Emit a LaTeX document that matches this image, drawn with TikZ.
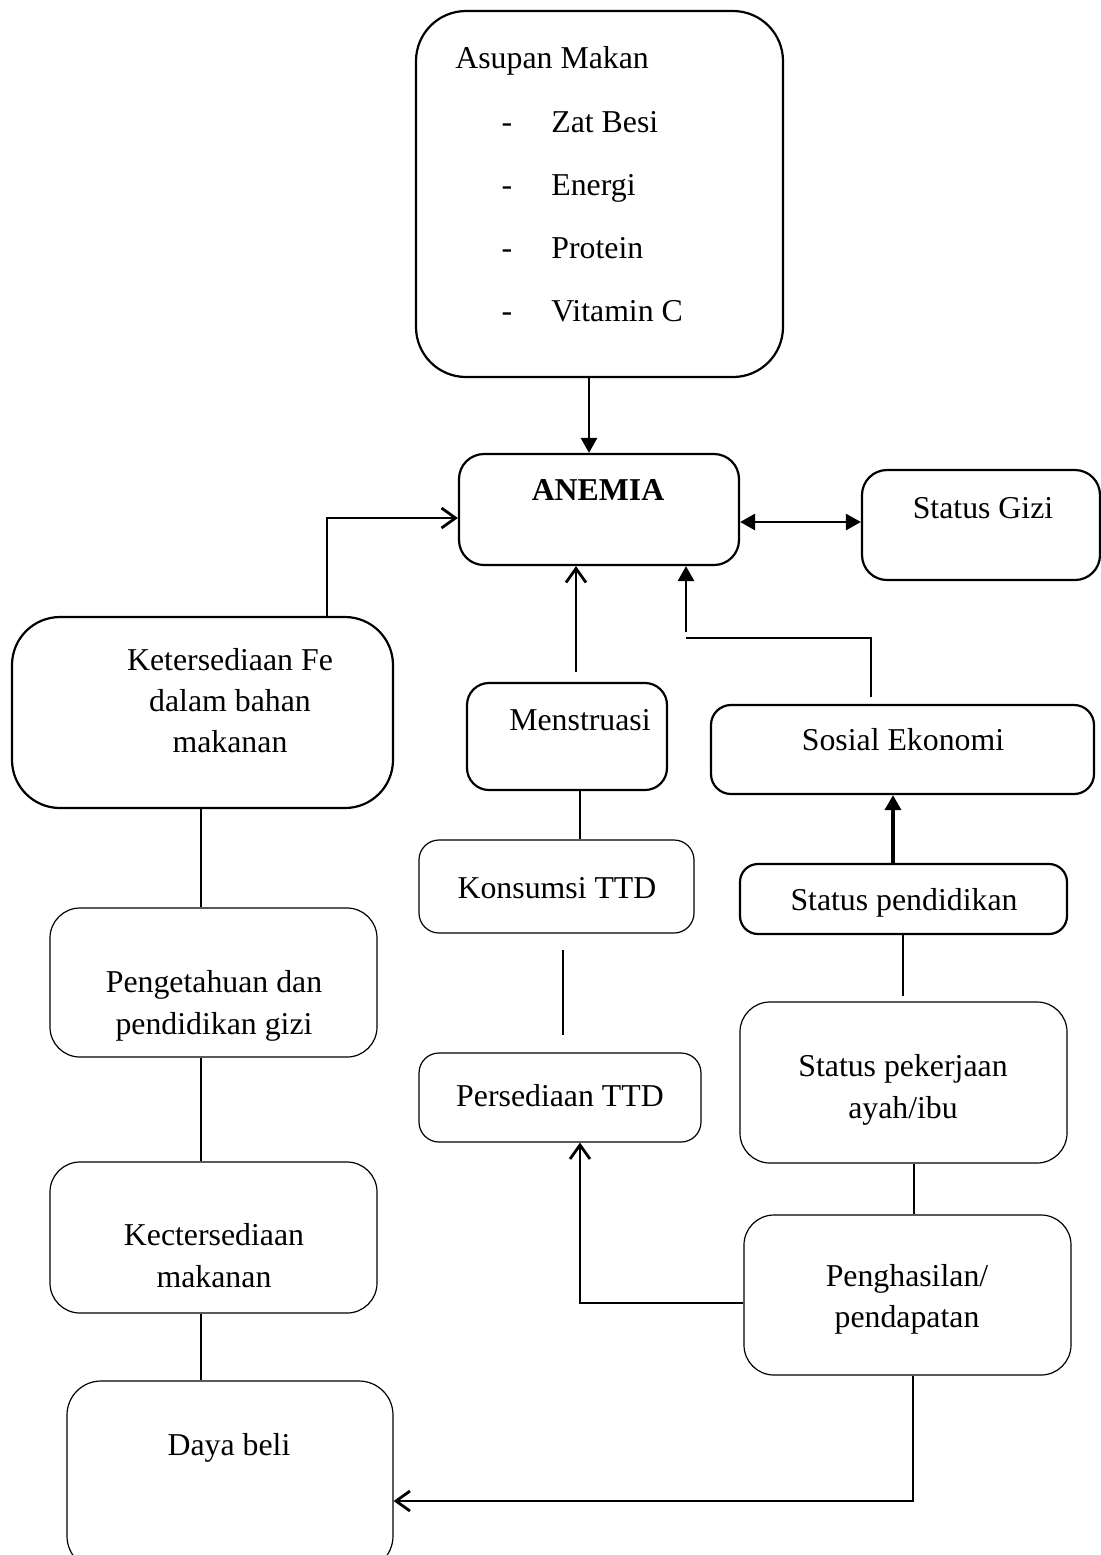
\documentclass[tikz,border=0pt]{standalone}
\usepackage{fontspec}
\setmainfont{Liberation Serif}
\usetikzlibrary{arrows.meta,fit}
\begin{document}
\begin{tikzpicture}[x=0.5pt,y=-0.5pt,
  boxA/.style={draw, line width=1.1pt, inner sep=0pt},
  boxB/.style={draw, line width=0.6pt, inner sep=0pt},
  txt/.style={inner sep=0pt, anchor=base, font=\fontsize{15.9}{19}\selectfont},
  txtw/.style={txt, anchor=base west},
  conn/.style={line width=1.4pt},
  link/.style={line width=0.9pt},
  openhead/.style={-{Straight Barb[length=7pt,width=10pt]}},
  fillhead/.style={-{Triangle[length=7.5pt,width=8pt]}},
]
\useasboundingbox (0,0) rectangle (1101,1555);
% boxes
\node[boxA, rounded corners=25pt, fit={(416,11) (783,377)}] (asupan) {};
\node[boxA, rounded corners=12.5pt, fit={(459,454) (739,565)}] (anemia) {};
\node[boxA, rounded corners=12.5pt, fit={(862,470) (1100,580)}] (gizi) {};
\node[boxA, rounded corners=24pt, fit={(12,617) (393,808)}] (ket) {};
\node[boxA, rounded corners=11pt, fit={(467,683) (667,790)}] (mens) {};
\node[boxA, rounded corners=10pt, fit={(711,705) (1094,794)}] (sosial) {};
\node[boxB, rounded corners=10pt, fit={(419,840) (694,933)}] (konsumsi) {};
\node[boxA, rounded corners=9pt, fit={(740,864) (1067,934)}] (pendidikan) {};
\node[boxB, rounded corners=15pt, fit={(50,908) (377,1057)}] (peng) {};
\node[boxB, rounded corners=10pt, fit={(419,1053) (701,1142)}] (persediaan) {};
\node[boxB, rounded corners=15pt, fit={(740,1002) (1067,1163)}] (pekerjaan) {};
\node[boxB, rounded corners=15pt, fit={(50,1162) (377,1313)}] (kect) {};
\node[boxB, rounded corners=15pt, fit={(744,1215) (1071,1375)}] (penghasilan) {};
\begin{scope}
\clip (0,0) rectangle (1101,1555);
\node[boxB, rounded corners=17pt, fit={(67,1381) (393,1570)}] (daya) {};
\end{scope}
% texts
\node[txtw] (tAsupan) at (455,68) {Asupan Makan};
\node[txt] (d1) at (507,132) {-};
\node[txtw] (i1) at (551,132) {Zat Besi};
\node[txt] (d2) at (507,195) {-};
\node[txtw] (i2) at (551,195) {Energi};
\node[txt] (d3) at (507,258) {-};
\node[txtw] (i3) at (551,258) {Protein};
\node[txt] (d4) at (507,321) {-};
\node[txtw] (i4) at (551,321) {Vitamin C};
\node[txt, font=\fontsize{15.9}{19}\selectfont\bfseries] (tAnemia) at (598,500) {ANEMIA};
\node[txt] (tGizi) at (983,518) {Status Gizi};
\node[txt] (tKet1) at (230,670) {Ketersediaan Fe};
\node[txt] (tKet2) at (230,711) {dalam bahan};
\node[txt] (tKet3) at (230,752) {makanan};
\node[txt] (tMens) at (580,730) {Menstruasi};
\node[txt] (tSosial) at (903,750) {Sosial Ekonomi};
\node[txt] (tKons) at (557,898) {Konsumsi TTD};
\node[txt] (tPend) at (904,910) {Status pendidikan};
\node[txt] (tPeng1) at (214,992) {Pengetahuan dan};
\node[txt] (tPeng2) at (214,1034) {pendidikan gizi};
\node[txt] (tPers) at (560,1106) {Persediaan TTD};
\node[txt] (tPek1) at (903,1076) {Status pekerjaan};
\node[txt] (tPek2) at (903,1118) {ayah/ibu};
\node[txt] (tKect1) at (214,1245) {Kectersediaan};
\node[txt] (tKect2) at (214,1287) {makanan};
\node[txt] (tPengh1) at (907,1286) {Penghasilan/};
\node[txt] (tPengh2) at (907,1327) {pendapatan};
\node[txt] (tDaya) at (229,1455) {Daya beli};
% free connector ends
\coordinate (ketStart) at (198,617);
\coordinate (mensStart) at (576,672);
\coordinate (sosStart) at (871,697);
\coordinate (sosBend) at (686,638);
\coordinate (sosArr) at (686,632);
\coordinate (konsEnd) at (563,950);
\coordinate (persTop) at (563,1035);
\coordinate (pendEnd) at (903,996);
% connectors
\draw[conn, fillhead] (asupan.south -| 589,0) -- (anemia.north -| 589,0);
\draw[conn, openhead] (ketStart) -- (327,617) -- (327,518) -- (anemia.west |- 0,518);
\draw[conn, {Triangle[length=7.5pt,width=8pt]}-{Triangle[length=7.5pt,width=8pt]}] (anemia.east |- 0,522) -- (gizi.west |- 0,522);
\draw[conn, openhead] (mensStart) -- (anemia.south -| mensStart);
\draw[conn] (sosStart) -- (871,638) -- (sosBend);
\draw[conn, fillhead] (sosArr) -- (anemia.south -| sosArr);
\draw[link] (mens.south -| 580,0) -- (konsumsi.north -| 580,0);
\draw[link] (konsEnd) -- (persTop);
\draw[conn, openhead] (penghasilan.west |- 0,1303) -- (580,1303) -- (persediaan.south -| 580,0);
\draw[line width=1.8pt, fillhead] (pendidikan.north -| 893,0) -- (sosial.south -| 893,0);
\draw[link] (pendidikan.south -| 903,0) -- (pendEnd);
\draw[link] (pekerjaan.south -| 914,0) -- (penghasilan.north -| 914,0);
\draw[conn, openhead] (penghasilan.south -| 913,0) -- (913,1501) -- (daya.east |- 0,1501);
\draw[link] (ket.south -| 201,0) -- (peng.north -| 201,0);
\draw[link] (peng.south -| 201,0) -- (kect.north -| 201,0);
\draw[link] (kect.south -| 201,0) -- (daya.north -| 201,0);
\end{tikzpicture}
\end{document}
